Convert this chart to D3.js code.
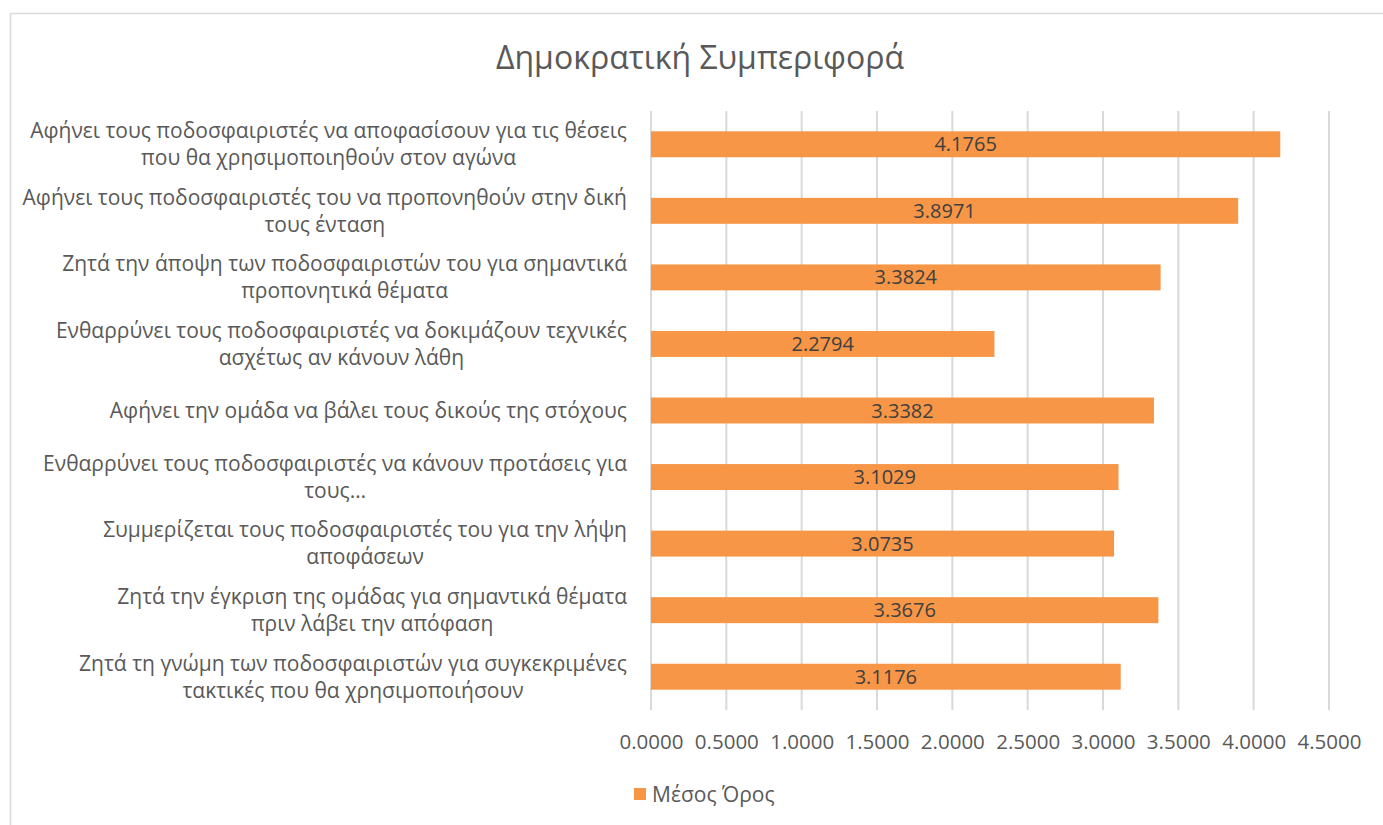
<!DOCTYPE html>
<html>
<head>
<meta charset="utf-8">
<script src="https://cdn.jsdelivr.net/npm/d3@7"></script>
<style>
  body { margin: 0; background: #fff; }
  text { font-family: "Open Sans", "Noto Sans", sans-serif; }
</style>
</head>
<body>
<svg id="chart"></svg>
<script>
var categories = [
  "Αφήνει τους ποδοσφαιριστές να αποφασίσουν για τις θέσεις\nπου θα χρησιμοποιηθούν στον αγώνα",
  "Αφήνει τους ποδοσφαιριστές του να προπονηθούν στην δική\nτους ένταση",
  "Ζητά την άποψη των ποδοσφαιριστών του για σημαντικά\nπροπονητικά θέματα",
  "Ενθαρρύνει τους ποδοσφαιριστές να δοκιμάζουν τεχνικές\nασχέτως αν κάνουν λάθη",
  "Αφήνει την ομάδα να βάλει τους δικούς της στόχους",
  "Ενθαρρύνει τους ποδοσφαιριστές να κάνουν προτάσεις για\nτους…",
  "Συμμερίζεται τους ποδοσφαιριστές του για την λήψη\nαποφάσεων",
  "Ζητά την έγκριση της ομάδας για σημαντικά θέματα\nπριν λάβει την απόφαση",
  "Ζητά τη γνώμη των ποδοσφαιριστών για συγκεκριμένες\nτακτικές που θα χρησιμοποιήσουν"
]
var values = [4.1765, 3.8971, 3.3824, 2.2794, 3.3382, 3.1029, 3.0735, 3.3676, 3.1176]
var xTicks = [0, 0.5, 1, 1.5, 2, 2.5, 3, 3.5, 4, 4.5]
var title = "Δημοκρατική Συμπεριφορά"
var seriesName = "Μέσος Όρος"

var dimensions = {
  width: 1383,
  height: 825,
  margin: { top: 111, bottom: 115, right: 54, left: 651 }
}

var svg = d3.select("#chart")
  .attr("width", dimensions.width)
  .attr("height", dimensions.height)

// outer chart frame
svg.append("rect")
  .attr("x", 10.5).attr("y", 13.5)
  .attr("width", 1400).attr("height", 900)
  .attr("fill", "#fff")
  .attr("stroke", "#d9d9d9")
  .attr("stroke-width", 1.5)

svg.append("text")
  .attr("x", 700).attr("y", 69)
  .attr("text-anchor", "middle")
  .attr("font-size", 32)
  .attr("fill", "#595959")
  .text(title)

var xScale = d3.scaleLinear()
  .domain([0, 4.5])
  .range([dimensions.margin.left, dimensions.width - dimensions.margin.right])

var yScale = d3.scaleBand()
  .domain(d3.range(categories.length))
  .range([dimensions.margin.top, dimensions.height - dimensions.margin.bottom])
  .paddingInner(0.61)
  .paddingOuter(0.305)

// gridlines
svg.append("g")
  .selectAll("line")
  .data(xTicks)
  .enter()
  .append("line")
  .attr("x1", d => xScale(d)).attr("x2", d => xScale(d))
  .attr("y1", dimensions.margin.top)
  .attr("y2", dimensions.height - dimensions.margin.bottom)
  .attr("stroke", "#d9d9d9")
  .attr("stroke-width", 2)

svg.append("g")
  .selectAll("rect")
  .data(values)
  .enter()
  .append("rect")
  .attr("x", xScale(0))
  .attr("y", (d, i) => yScale(i))
  .attr("width", d => xScale(d) - xScale(0))
  .attr("height", yScale.bandwidth())
  .attr("fill", "#f79646")

svg.append("g")
  .selectAll("text")
  .data(values)
  .enter()
  .append("text")
  .attr("x", d => (xScale(d) + xScale(0)) / 2)
  .attr("y", (d, i) => yScale(i) + yScale.bandwidth() / 2)
  .attr("dy", "0.35em")
  .attr("text-anchor", "middle")
  .attr("font-size", 20)
  .attr("fill", "#404040")
  .text(d => d.toFixed(4))

// x axis labels
var xAxisGen = d3.axisBottom(xScale)
  .tickValues(xTicks)
  .tickFormat(d => d.toFixed(4))
  .tickSize(0)
  .tickPadding(24)

var xAxis = svg.append("g")
  .call(xAxisGen)
  .attr("transform", `translate(0,${dimensions.height - dimensions.margin.bottom})`)
xAxis.attr("font-family", null).attr("font-size", null)
xAxis.select(".domain").remove()
xAxis.selectAll("text")
  .attr("font-size", 20.5)
  .attr("fill", "#595959")

// category labels, lines centred, block right-aligned
var labelRight = 627
var lineH = 27
categories.forEach(function (c, i) {
  var lines = c.split("\n")
  var g = svg.append("g")
  var cy = yScale(i) + yScale.bandwidth() / 2
  var texts = lines.map(function (l, j) {
    return g.append("text")
      .attr("y", cy + (j - (lines.length - 1) / 2) * lineH)
      .attr("dy", "0.35em")
      .attr("text-anchor", "middle")
      .attr("font-size", 21)
      .attr("fill", "#595959")
      .text(l)
  })
  var maxW = d3.max(texts, t => t.node().getComputedTextLength())
  texts.forEach(t => t.attr("x", labelRight - maxW / 2))
})

// legend
svg.append("rect")
  .attr("x", 634).attr("y", 788)
  .attr("width", 12).attr("height", 12)
  .attr("fill", "#f79646")
svg.append("text")
  .attr("x", 652).attr("y", 795)
  .attr("dy", "0.35em")
  .attr("font-size", 21)
  .attr("fill", "#595959")
  .text(seriesName)
</script>
</body>
</html>
